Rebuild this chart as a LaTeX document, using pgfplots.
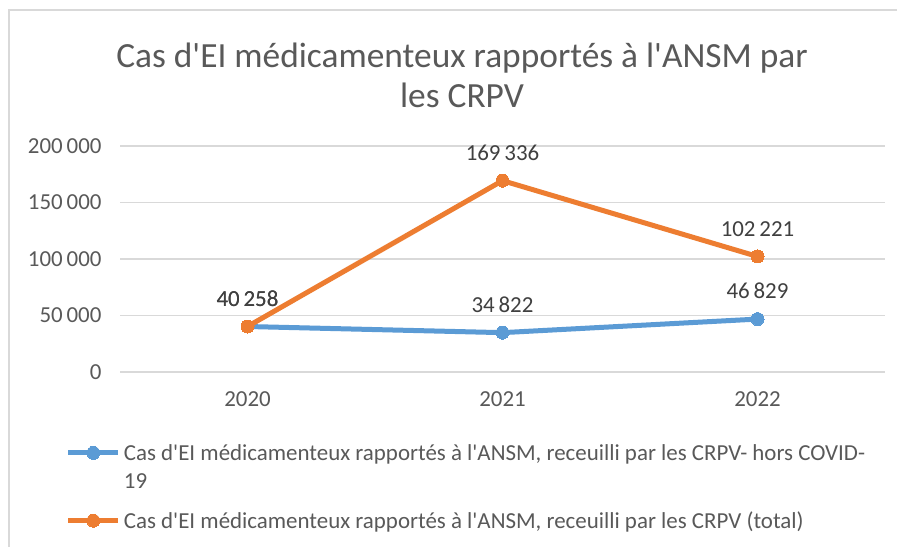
\documentclass[border=0pt]{standalone}
\usepackage{pgfplots}
\pgfplotsset{compat=1.18}
\usepackage{fontspec}
\setmainfont{Carlito}[Ligatures=TeXOff]
\definecolor{cblue}{HTML}{5B9BD5}
\definecolor{corange}{HTML}{ED7D31}
\definecolor{ctext}{HTML}{595959}
\definecolor{clabel}{HTML}{404040}
\definecolor{cgrid}{HTML}{D9D9D9}
\pgfplotsset{
  legmid/.style={legend image code/.code={\draw[mark repeat=2,mark phase=2,##1] plot coordinates {(0bp,0bp) (25bp,0bp) (50bp,0bp)};}},
  legup/.style={legend image code/.code={\draw[mark repeat=2,mark phase=2,##1] plot coordinates {(0bp,14bp) (25bp,14bp) (50bp,14bp)};}},
}
\begin{document}
\begin{tikzpicture}[x=1bp,y=1bp]
\useasboundingbox (0,0) rectangle (899,547);
\fill[white] (0,0) rectangle (899,547);
\draw[cgrid, line width=2bp] (8.5,0) -- (8.5,537) -- (897,537);
\node[font=\fontsize{35.5}{40}\selectfont, text=ctext, align=center] at (462,472)
  {Cas d'EI médicamenteux rapportés à l'ANSM par\\les CRPV};
\begin{axis}[
  at={(120bp,175bp)}, anchor=south west,
  scale only axis, width=765bp, height=226bp,
  xmin=-0.5, xmax=2.5, ymin=0, ymax=200000,
  scaled y ticks=false,
  axis line style={draw=none},
  xtick={0,1,2}, xticklabels={2020,2021,2022},
  ytick={0,50000,100000,150000,200000},
  yticklabels={0,50\,000,100\,000,150\,000,200\,000},
  major tick length=0pt,
  ymajorgrids, grid style={cgrid, line width=1.5bp},
  x axis line style={draw=cgrid, line width=1.5bp},
  tick label style={font=\fontsize{23}{27}\selectfont, text=ctext},
  yticklabel style={xshift=-15bp},
  xticklabel style={yshift=-16bp},
  clip=false,
  nodes near coords,
  point meta=explicit symbolic,
  nodes near coords style={font=\fontsize{23}{27}\selectfont, text=clabel, anchor=south, yshift=17bp},
  legmid,
  legend style={at={(axis description cs:-0.071,-0.31)}, anchor=north west, draw=none, fill=none,
    font=\fontsize{23}{28}\selectfont, text=ctext, inner sep=0pt, row sep=18bp,
    nodes={inner xsep=3bp, inner ysep=2bp}},
  legend cell align=left,
  legend columns=1,
]
\addplot[cblue, line width=5bp, mark=*, mark size=6.5bp, mark options={fill=cblue, draw=cblue, line width=0bp}, legup]
  coordinates {(0,40258) [40\,258] (1,34822) [34\,822] (2,46829) [46\,829]};
\addlegendentry[align=left]{Cas d'EI médicamenteux rapportés à l'ANSM, receuilli par les CRPV- hors COVID-\\19}
\addplot[corange, line width=5bp, mark=*, mark size=6.5bp, mark options={fill=corange, draw=corange, line width=0bp}]
  coordinates {(0,40258) [40\,258] (1,169336) [169\,336] (2,102221) [102\,221]};
\addlegendentry{Cas d'EI médicamenteux rapportés à l'ANSM, receuilli par les CRPV (total)}
\end{axis}
\end{tikzpicture}
\end{document}
